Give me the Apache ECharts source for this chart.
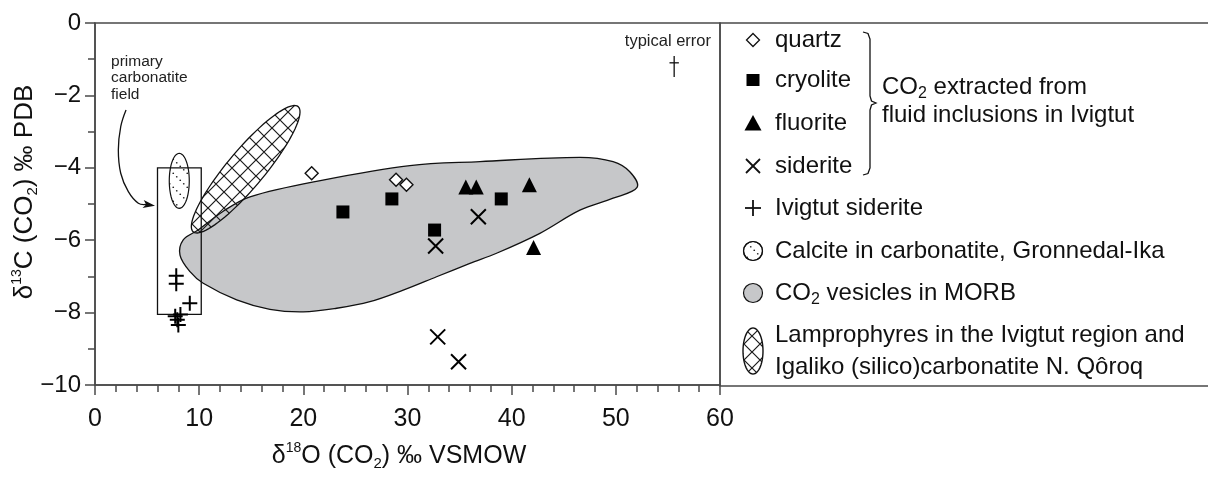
<!DOCTYPE html>
<html>
<head>
<meta charset="utf-8">
<script src="https://cdn.jsdelivr.net/npm/echarts@6/dist/echarts.min.js"></script>
<style>
  html, body { margin: 0; padding: 0; background: #fff; }
  #chart { width: 1208px; height: 487px; }
</style>
</head>
<body>
<div id="chart"></div>
<script>
// ---- data: [δ18O, δ13C] pairs (‰) ----
const quartz = [[20.8, -4.15], [28.9, -4.33], [29.9, -4.47]];
const cryolite = [[23.8, -5.22], [28.5, -4.86], [32.6, -5.72], [39.0, -4.86]];
const fluorite = [[35.6, -4.53], [36.6, -4.53], [41.7, -4.47], [42.1, -6.2]];
const siderite = [[36.8, -5.35], [32.7, -6.16], [32.9, -8.67], [34.9, -9.36]];
const ivigtutSiderite = [[7.8, -6.98], [7.8, -7.2], [9.1, -7.74], [7.7, -8.1], [8.2, -8.05], [7.9, -8.2], [8.0, -8.34]];

// outline of the CO2 vesicles in MORB field
const morbX = [8.16, 8.47, 9.9, 12.31, 14.88, 21.88, 30.23, 36.95, 46.55, 49.74, 51.34, 52.04, 49.74, 46.55, 42.71, 38.55, 35.99, 32.79, 29.59, 26.39, 23.20, 19.99, 16.79, 13.60, 10.39, 9.12];
const morbY = [-6.41, -5.99, -5.72, -5.2, -4.80, -4.34, -3.94, -3.83, -3.71, -3.83, -4.11, -4.54, -4.84, -5.17, -5.81, -6.36, -6.64, -7.01, -7.38, -7.70, -7.88, -7.98, -7.91, -7.65, -7.19, -6.87];

// primary carbonatite field: [x0, y0, x1, y1]
const carbonatiteBox = [6.0, -4.0, 10.2, -8.05];
// calcite in carbonatite (Gronnedal-Ika): centre and semi-axes
const calciteCentre = [8.09, -4.36];
const calciteRadii = [0.96, 0.76];
// lamprophyres / Igaliko carbonatite: ends of the long axis and width ratio
const lamproAxis = [[19.5, -2.31], [9.43, -5.77]];
const lamproRatio = 0.227;
// typical analytical error
const typicalError = { x: 55.6, y: -1.10, dx: 0.45, up: 0.19, down: 0.39 };
// curved arrow towards the carbonatite box
const arrowX = [2.98, 2.47, 2.24, 2.47, 3.20, 4.16, 5.76];
const arrowY = [-2.40, -2.86, -3.51, -4.15, -4.66, -4.98, -5.05];
const boxNoteAt = [1.54, -0.83];
const errorNoteAt = [55.0, -0.52];

const xTicks = [0, 10, 20, 30, 40, 50, 60];
const yTicks = [-10, -8, -6, -4, -2, 0];

const legendLabels = [
  'quartz', 'cryolite', 'fluorite', 'siderite', 'Ivigtut siderite',
  'Calcite in carbonatite, Gronnedal-Ika',
  'CO{sub|2} vesicles in MORB',
  'Lamprophyres in the Ivigtut region and\nIgaliko (silico)carbonatite N. Qôroq'
];
const groupLabel = 'CO{sub|2} extracted from\nfluid inclusions in Ivigtut';

// ---- styling ----
const FONT = '"Liberation Sans", Arial, Helvetica, sans-serif';
const INK = '#111';
const AXIS = '#4a4a4a';
const GREY = '#c6c7c9';

function hatchCanvas() {
  const s = 16, c = document.createElement('canvas');
  c.width = c.height = s;
  const g = c.getContext('2d');
  g.strokeStyle = '#1a1a1a'; g.lineWidth = 1.2;
  g.beginPath();
  g.moveTo(-1, -1); g.lineTo(s + 1, s + 1);
  g.moveTo(s + 1, -1); g.lineTo(-1, s + 1);
  g.stroke();
  return c;
}
function dotCanvas() {
  const s = 14, c = document.createElement('canvas');
  c.width = c.height = s;
  const g = c.getContext('2d');
  g.fillStyle = '#222';
  for (let i = 0; i < 4; i++) {
    g.beginPath();
    g.arc(i * s / 4 + 1.75, i * s / 4 + 1.75, 0.85, 0, Math.PI * 2);
    g.fill();
  }
  return c;
}
const hatchFill = { image: hatchCanvas(), repeat: 'repeat' };
const dotFill = { image: dotCanvas(), repeat: 'repeat' };

function ellipsePoints(cx, cy, a, b, ux, uy, n) {
  const pts = [];
  for (let k = 0; k < n; k++) {
    const t = k / n * Math.PI * 2;
    const ca = a * Math.cos(t), sb = b * Math.sin(t);
    pts.push([cx + ca * ux - sb * uy, cy + ca * uy + sb * ux]);
  }
  return pts;
}

const subRich = {
  sub: { fontSize: 16, lineHeight: 16, verticalAlign: 'bottom', fontFamily: FONT, fill: INK }
};

// ---- legend (drawn in the panel right of the plot) ----
const rowY = [40, 80, 123, 166, 208, 251, 293, 351];
const iconX = 753, textX = 775;
function legendIcon(i, cy) {
  const cx = iconX;
  switch (i) {
    case 0: return { type: 'polygon', shape: { points: [[cx, cy - 6.5], [cx + 6.5, cy], [cx, cy + 6.5], [cx - 6.5, cy]] }, style: { fill: '#fff', stroke: INK, lineWidth: 1.3 } };
    case 1: return { type: 'rect', shape: { x: cx - 6.5, y: cy - 6, width: 13, height: 12 }, style: { fill: '#000' } };
    case 2: return { type: 'polygon', shape: { points: [[cx, cy - 8], [cx + 8.5, cy + 7.5], [cx - 8.5, cy + 7.5]] }, style: { fill: '#000' } };
    case 3: return { type: 'group', children: [
      { type: 'line', shape: { x1: cx - 7, y1: cy - 7, x2: cx + 7, y2: cy + 7 }, style: { stroke: INK, lineWidth: 1.8 } },
      { type: 'line', shape: { x1: cx + 7, y1: cy - 7, x2: cx - 7, y2: cy + 7 }, style: { stroke: INK, lineWidth: 1.8 } }] };
    case 4: return { type: 'group', children: [
      { type: 'line', shape: { x1: cx - 8, y1: cy, x2: cx + 8, y2: cy }, style: { stroke: INK, lineWidth: 1.8 } },
      { type: 'line', shape: { x1: cx, y1: cy - 8, x2: cx, y2: cy + 8 }, style: { stroke: INK, lineWidth: 1.8 } }] };
    case 5: return { type: 'group', children: [
      { type: 'circle', shape: { cx: cx, cy: cy, r: 9.5 }, style: { fill: '#fff', stroke: INK, lineWidth: 1.2 } },
      { type: 'circle', shape: { cx: cx, cy: cy, r: 9.5 }, style: { fill: dotFill, stroke: INK, lineWidth: 1.2 } }] };
    case 6: return { type: 'circle', shape: { cx: cx, cy: cy, r: 9.5 }, style: { fill: GREY, stroke: INK, lineWidth: 1.2 } };
    default: return { type: 'polygon', shape: { points: ellipsePoints(cx, cy, 23, 10, 0, 1, 60) }, style: { fill: hatchFill, stroke: INK, lineWidth: 1.4 } };
  }
}
const legendGraphics = [
  { type: 'rect', shape: { x: 720, y: 23, width: 520, height: 363 }, style: { fill: 'none', stroke: AXIS, lineWidth: 1.5 } }
];
legendLabels.forEach((label, i) => {
  legendGraphics.push(legendIcon(i, rowY[i]));
  legendGraphics.push({
    type: 'text', x: textX, y: rowY[i],
    style: { text: label, fontSize: 24, fontFamily: FONT, fill: INK, align: 'left', verticalAlign: 'middle',
             lineHeight: i === 7 ? 32 : 30, rich: subRich }
  });
});
// brace grouping the four fluid-inclusion minerals
legendGraphics.push({
  type: 'polyline',
  shape: { points: [[863, 32], [868, 33.5], [870, 39], [870, 96], [871.5, 101], [876, 103], [871.5, 105], [870, 110], [870, 168], [868, 173.5], [863, 175]] },
  style: { fill: 'none', stroke: INK, lineWidth: 1.3 }
});
groupLabel.split('\n').forEach((line, i) => {
  legendGraphics.push({
    type: 'text', x: 882, y: i === 0 ? 87 : 115,
    style: { text: line, fontSize: 24, fontFamily: FONT, fill: INK, align: 'left', verticalAlign: 'middle', lineHeight: 30, rich: subRich }
  });
});

// ---- series ----
const fieldSeries = [
  {
    type: 'custom', name: 'CO2 vesicles in MORB', silent: true, clip: false,
    data: [[morbX[0], morbY[0]]],
    renderItem: (p, api) => ({
      type: 'polygon',
      shape: { points: morbX.map((x, i) => api.coord([x, morbY[i]])), smooth: 0.35 },
      style: { fill: GREY, stroke: INK, lineWidth: 1.3 }
    })
  },
  {
    type: 'custom', name: 'primary carbonatite field', silent: true, clip: false,
    data: [[carbonatiteBox[0], carbonatiteBox[1]]],
    renderItem: (p, api) => {
      const a = api.coord([carbonatiteBox[0], carbonatiteBox[1]]);
      const b = api.coord([carbonatiteBox[2], carbonatiteBox[3]]);
      return { type: 'rect', shape: { x: a[0], y: a[1], width: b[0] - a[0], height: b[1] - a[1] },
               style: { fill: 'none', stroke: INK, lineWidth: 1.3 } };
    }
  },
  {
    type: 'custom', name: 'Calcite in carbonatite, Gronnedal-Ika', silent: true, clip: false,
    data: [calciteCentre],
    renderItem: (p, api) => {
      const c = api.coord(calciteCentre);
      const r = api.size(calciteRadii);
      return { type: 'polygon', shape: { points: ellipsePoints(c[0], c[1], r[0], r[1], 1, 0, 60) },
               style: { fill: dotFill, stroke: INK, lineWidth: 1.2 } };
    }
  },
  {
    type: 'custom', name: 'Lamprophyres', silent: true, clip: false,
    data: [lamproAxis[0]],
    renderItem: (p, api) => {
      const p1 = api.coord(lamproAxis[0]), p2 = api.coord(lamproAxis[1]);
      const cx = (p1[0] + p2[0]) / 2, cy = (p1[1] + p2[1]) / 2;
      const dx = (p1[0] - p2[0]) / 2, dy = (p1[1] - p2[1]) / 2;
      const a = Math.hypot(dx, dy);
      return { type: 'polygon', shape: { points: ellipsePoints(cx, cy, a, a * lamproRatio, dx / a, dy / a, 90) },
               style: { fill: hatchFill, stroke: INK, lineWidth: 1.3 } };
    }
  },
  {
    type: 'custom', name: 'notes', silent: true, clip: false,
    data: [boxNoteAt],
    renderItem: (p, api) => {
      const pts = arrowX.map((x, i) => api.coord([x, arrowY[i]]));
      const tip = pts[pts.length - 1], prev = pts[pts.length - 2];
      const ang = Math.atan2(tip[1] - prev[1], tip[0] - prev[0]);
      const ux = Math.cos(ang), uy = Math.sin(ang);
      const L = 12, W = 4;
      const head = [tip,
        [tip[0] - L * ux - W * uy, tip[1] - L * uy + W * ux],
        [tip[0] - (L - 3) * ux, tip[1] - (L - 3) * uy],
        [tip[0] - L * ux + W * uy, tip[1] - L * uy - W * ux]];
      const shaft = pts.slice(0, -1).concat([[tip[0] - (L - 3) * ux, tip[1] - (L - 3) * uy]]);
      const note = api.coord(boxNoteAt);
      const eNote = api.coord(errorNoteAt);
      const e = typicalError;
      const eTop = api.coord([e.x, e.y + e.up]), eBot = api.coord([e.x, e.y - e.down]);
      const eL = api.coord([e.x - e.dx, e.y]), eR = api.coord([e.x + e.dx, e.y]);
      return {
        type: 'group',
        children: [
          { type: 'polyline', shape: { points: shaft, smooth: 0.4 }, style: { fill: 'none', stroke: INK, lineWidth: 1.3 } },
          { type: 'polygon', shape: { points: head }, style: { fill: INK } },
          { type: 'text', x: note[0], y: note[1],
            style: { text: 'primary\ncarbonatite\nfield', fontSize: 15.5, fontFamily: FONT, fill: '#222',
                     align: 'left', verticalAlign: 'top', lineHeight: 16.5 } },
          { type: 'text', x: eNote[0], y: eNote[1],
            style: { text: 'typical error', fontSize: 16.5, fontFamily: FONT, fill: '#222', align: 'center', verticalAlign: 'middle' } },
          { type: 'line', shape: { x1: eTop[0], y1: eTop[1], x2: eBot[0], y2: eBot[1] }, style: { stroke: INK, lineWidth: 1.3 } },
          { type: 'line', shape: { x1: eL[0], y1: eL[1], x2: eR[0], y2: eR[1] }, style: { stroke: INK, lineWidth: 1.3 } }
        ]
      };
    }
  }
];

const pointSeries = [
  { type: 'scatter', name: 'quartz', data: quartz, symbol: 'diamond', symbolSize: 13,
    itemStyle: { color: '#fff', borderColor: INK, borderWidth: 1.4, opacity: 1 } },
  { type: 'scatter', name: 'cryolite', data: cryolite, symbol: 'rect', symbolSize: 13,
    itemStyle: { color: '#000', opacity: 1 } },
  { type: 'scatter', name: 'fluorite', data: fluorite, symbol: 'triangle', symbolSize: [15, 15],
    itemStyle: { color: '#000', opacity: 1 } },
  { type: 'scatter', name: 'siderite', data: siderite, symbol: 'path://M0,0L10,10M10,0L0,10', symbolSize: 15,
    itemStyle: { color: 'none', borderColor: '#000', borderWidth: 2, opacity: 1 } },
  { type: 'scatter', name: 'Ivigtut siderite', data: ivigtutSiderite, symbol: 'path://M5,0L5,10M0,5L10,5', symbolSize: 15,
    itemStyle: { color: 'none', borderColor: '#000', borderWidth: 2, opacity: 1 } }
];

const axisLineStyle = { color: AXIS, width: 1.5 };
const titleRich = {
  sup: { fontSize: 14, lineHeight: 18, verticalAlign: 'top', fontFamily: FONT, color: INK },
  sub: { fontSize: 15, lineHeight: 15, verticalAlign: 'bottom', fontFamily: FONT, color: INK }
};

const chart = echarts.init(document.getElementById('chart'), null, { renderer: 'canvas' });
chart.setOption({
  animation: false,
  backgroundColor: '#fff',
  grid: { left: 95, top: 23, right: 488, bottom: 102, show: true, borderColor: AXIS, borderWidth: 1.5,
          containLabel: false, outerBoundsMode: 'none' },
  xAxis: {
    type: 'value', min: xTicks[0], max: xTicks[xTicks.length - 1], interval: xTicks[1] - xTicks[0],
    axisLine: { show: true, onZero: false, lineStyle: axisLineStyle },
    axisTick: { show: true, length: 10, lineStyle: axisLineStyle },
    minorTick: { show: true, splitNumber: 5, length: 7, lineStyle: axisLineStyle },
    splitLine: { show: false },
    axisLabel: { fontSize: 25, fontFamily: FONT, color: INK, margin: 22 },
    name: '{d|δ}{sup|18}O (CO{sub|2}) ‰ VSMOW',
    nameLocation: 'middle', nameGap: 56, nameMoveOverlap: false,
    nameTextStyle: { fontSize: 25, fontFamily: FONT, color: INK, lineHeight: 30, padding: [0, 17, 0, 0],
                     rich: Object.assign({ d: { fontSize: 25, fontFamily: FONT, color: INK, lineHeight: 30 } }, titleRich) }
  },
  yAxis: {
    type: 'value', min: yTicks[0], max: yTicks[yTicks.length - 1], interval: yTicks[1] - yTicks[0],
    axisLine: { show: true, onZero: false, lineStyle: axisLineStyle },
    axisTick: { show: true, length: 10, lineStyle: axisLineStyle },
    minorTick: { show: true, splitNumber: 2, length: 7, lineStyle: axisLineStyle },
    splitLine: { show: false },
    axisLabel: { fontSize: 24, fontFamily: FONT, color: INK, margin: 14,
                 formatter: v => (v < 0 ? '\u2212' + Math.abs(v) : String(v)) },
    name: '{d|δ}{sup|13}C (CO{sub|2}) ‰ PDB',
    nameLocation: 'middle', nameGap: 55, nameRotate: 90, nameMoveOverlap: false,
    nameTextStyle: { fontSize: 26, fontFamily: FONT, color: INK, lineHeight: 30, padding: [0, 0, 0, 24],
                     rich: Object.assign({ d: { fontSize: 26, fontFamily: FONT, color: INK, lineHeight: 30 } }, titleRich) }
  },
  graphic: legendGraphics,
  series: fieldSeries.concat(pointSeries)
});
</script>
</body>
</html>
